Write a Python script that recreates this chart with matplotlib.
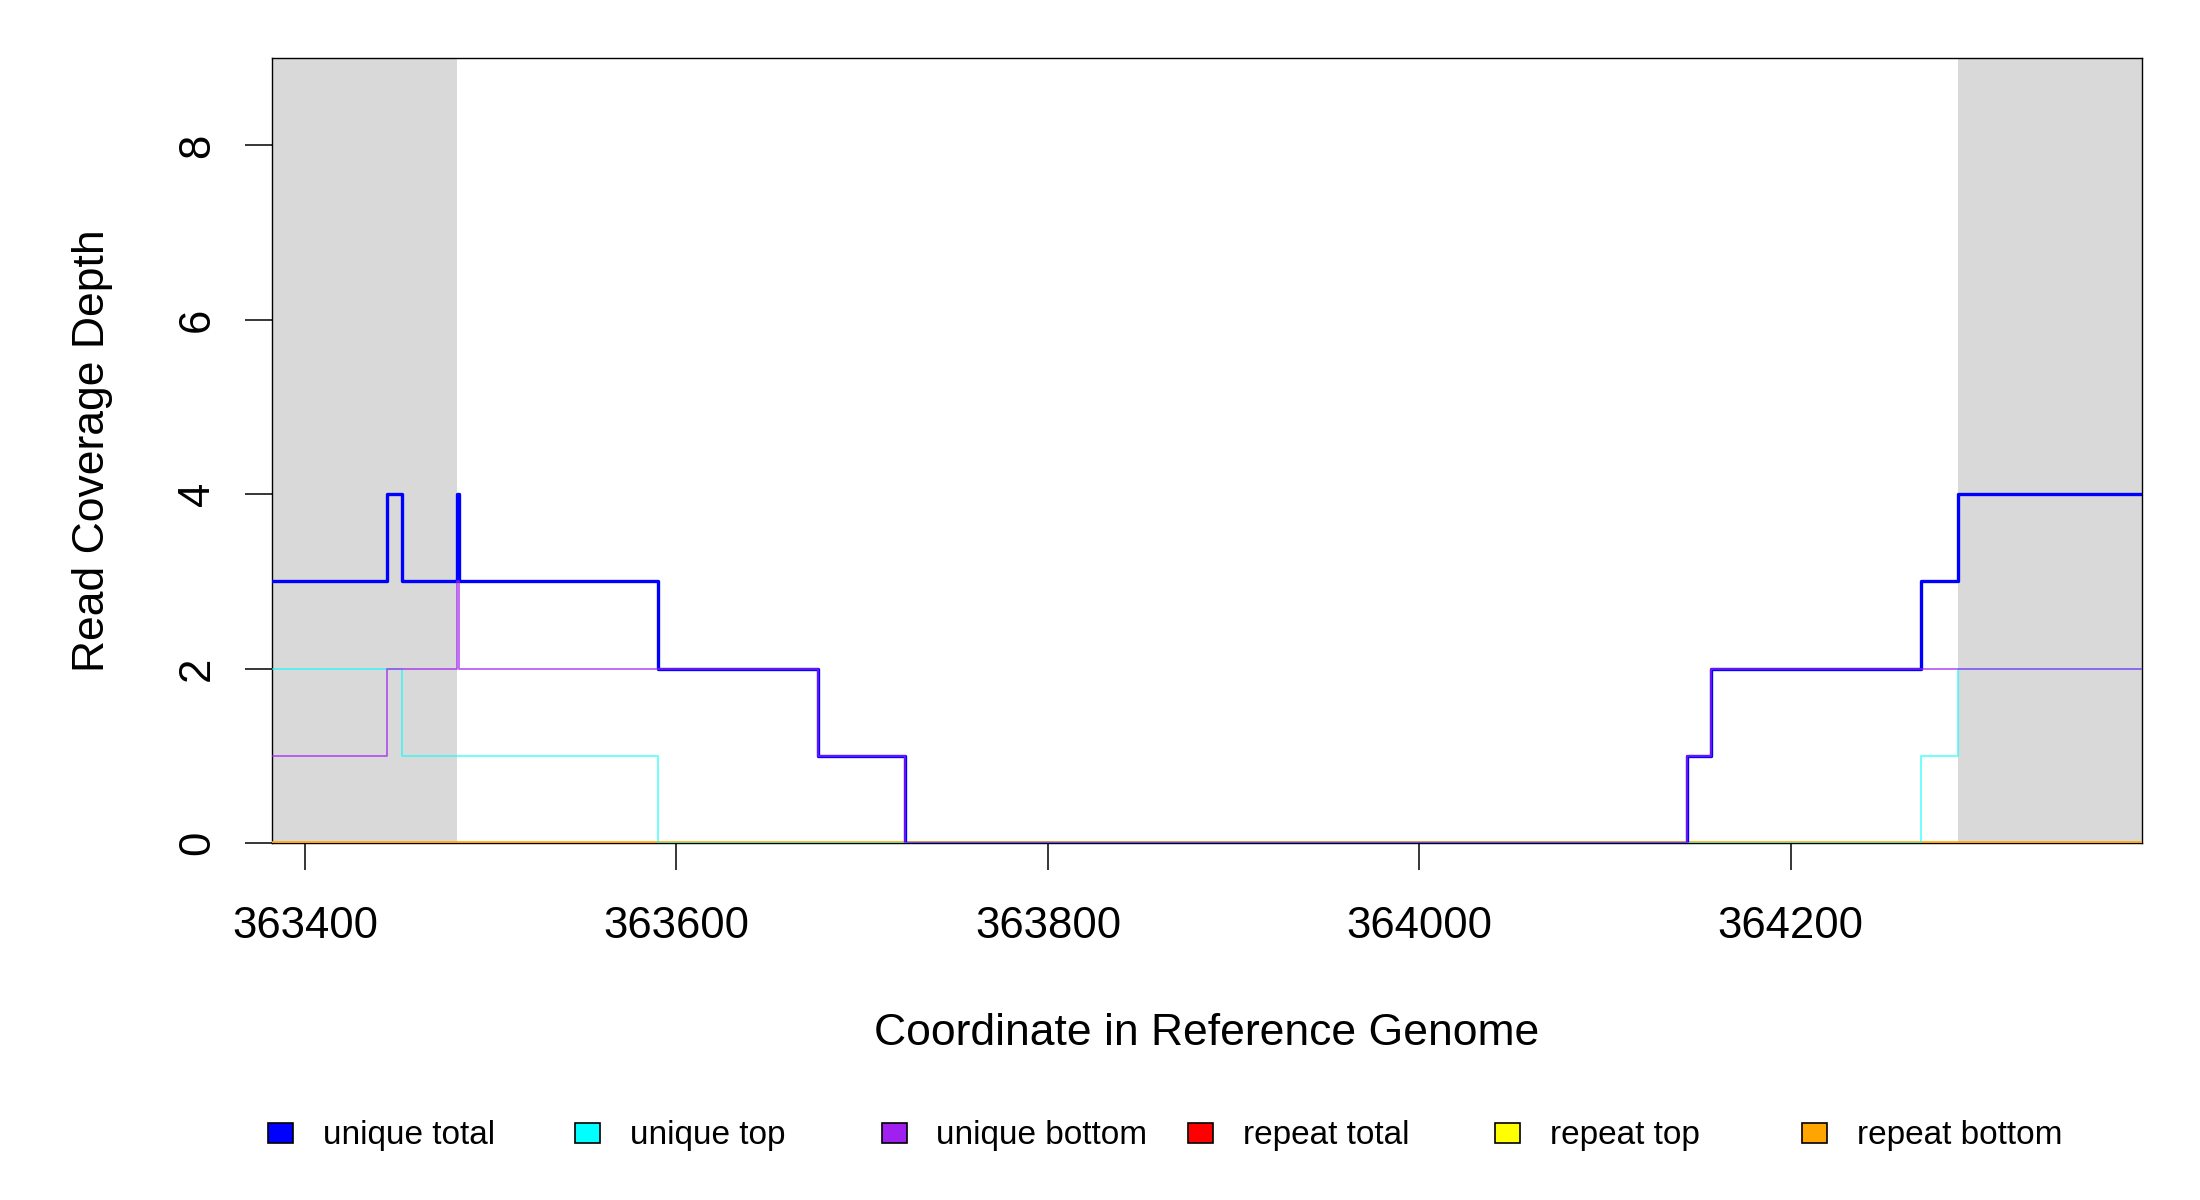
import matplotlib
matplotlib.use('Agg')
import matplotlib.pyplot as plt
from matplotlib.patches import Rectangle

plt.rcParams['font.family'] = ['Liberation Sans', 'DejaVu Sans']

# region shown and the shaded flanks
x_range = [363382, 364389]
flanks = [(363382, 363482), (364290, 364389)]
y_range = [0, 9]

# coverage step series: positions where depth changes, and depth from there on
ut_x = [363382, 363444, 363452, 363482, 363483, 363590, 363676, 363723,
        364144, 364157, 364270, 364290, 364389]
ut_y = [3, 4, 3, 4, 3, 2, 1, 0, 1, 2, 3, 4, 4]

top_x = [363382, 363452, 363590, 364270, 364290, 364389]
top_y = [2, 1, 0, 1, 2, 2]

bot_x = [363382, 363444, 363482, 363483, 363676, 363723, 364144, 364157, 364389]
bot_y = [1, 2, 3, 2, 1, 0, 1, 2, 2]

rep_x = [363382, 364389]
rep_total = [0, 0]
rep_top = [0, 0]
rep_bot = [0, 0]

labels = ['unique total', 'unique top', 'unique bottom',
          'repeat total', 'repeat top', 'repeat bottom']
colors = ['#0000FF', '#00FFFF', '#A020F0', '#FF0000', '#FFFF00', '#FFA500']

W, H = 2200, 1200
fig = plt.figure(figsize=(22, 12), dpi=100)
ax = fig.add_axes([271.6 / W, 1 - 843 / H, (2141.8 - 271.6) / W, (843 - 58.3) / H])

for a, b in flanks:
    ax.axvspan(a, b, color='#D9D9D9', lw=0, zorder=0)

# repeats first, then unique coverage on top
ax.step(rep_x, rep_total, where='post', color=colors[3], lw=2.0, alpha=0.6, zorder=6)
ax.step(rep_x, rep_top, where='post', color=colors[4], lw=2.0, alpha=0.6, zorder=6)
ax.step(rep_x, rep_bot, where='post', color=colors[5], lw=2.6, alpha=0.95, zorder=6)
ax.step(ut_x, ut_y, where='post', color=colors[0], lw=2.4, zorder=7)
ax.step(top_x, top_y, where='post', color=colors[1], lw=1.3, alpha=0.6, zorder=7)
ax.step(bot_x, bot_y, where='post', color=colors[2], lw=1.3, alpha=0.7, zorder=7)

ax.set_xlim(x_range)
ax.set_ylim(y_range)
ax.set_xticks([363400, 363600, 363800, 364000, 364200])
ax.set_yticks([0, 2, 4, 6, 8])
ax.tick_params(axis='both', length=19.5, width=1.1, labelsize=31.5, direction='out')
ax.tick_params(axis='x', pad=25.5)
ax.tick_params(axis='y', pad=19)
for t in ax.get_yticklabels():
    t.set_rotation(90)
    t.set_va('center')
for s in ax.spines.values():
    s.set_linewidth(1.0)
    s.set_zorder(5)

ax.set_xlabel('Coordinate in Reference Genome', fontsize=32)
ax.set_ylabel('Read Coverage Depth', fontsize=32)
ax.xaxis.set_label_coords(0.5, -0.2434)
ax.xaxis.label.set_va('center')
ax.yaxis.set_label_coords(-0.0960, 0.5)
ax.yaxis.label.set_va('center')

# legend row along the bottom, evenly spaced like R's horizontal legend
step_px = 306.9
for i, (lab, c) in enumerate(zip(labels, colors)):
    cx = 280.2 + i * step_px
    fig.patches.append(Rectangle(((cx - 12.5) / W, 1 - 1143.3 / H), 25 / W, 20.6 / H,
                                 transform=fig.transFigure, facecolor=c,
                                 edgecolor='black', lw=1.2))
    fig.text((cx + 42.5) / W, 1 - 1144.3 / H, lab, fontsize=24, va='baseline', ha='left')

fig.savefig('out.png', dpi=100)
